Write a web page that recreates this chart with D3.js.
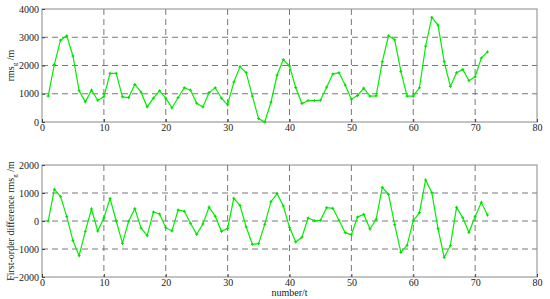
<!DOCTYPE html>
<html><head><meta charset="utf-8">
<script src="https://cdn.jsdelivr.net/npm/d3@7"></script>
<style>body{margin:0;background:#fff}svg{display:block}svg text{font-family:"Liberation Serif","Times New Roman",serif !important;}</style>
</head><body>
<script>
const rmsValues = [915,2040,2896,3050,2338,1104,712,1128,771,890,1721,1721,890,866,1329,1056,534,843,1104,843,498,866,1211,1128,665,534,1044,1211,843,605,1412,1958,1745,914,119,0,700,1662,2208,1982,1223,653,760,760,771,1234,1697,1745,1306,807,938,1199,914,926,2136,3050,2908,1792,914,914,1211,2682,3703,3430,2136,1258,1745,1863,1460,1602,2267,2481];
const diffValues = [0,1131,869,155,-702,-1238,-369,429,-357,107,798,0,-798,-12,440,-250,-524,321,250,-238,-357,393,345,-83,-476,-107,500,167,-369,-262,810,560,-214,-833,-810,-119,690,976,536,-226,-750,-583,107,12,24,476,452,24,-417,-488,143,238,-286,60,1202,952,-131,-1119,-869,12,298,1464,1012,-274,-1298,-881,488,119,-405,155,667,214];
const xTicks = [0,10,20,30,40,50,60,70,80];
const topYTicks = [0,1000,2000,3000,4000];
const botYTicks = [-2000,-1000,0,1000,2000];
const topLabel = "rms";
const botLabel = "First-order difference rms";
const xLabel = "number/t";

const W=550,H=299;
const svg=d3.select("body").append("svg").attr("width",W).attr("height",H);
const x=d3.scaleLinear().domain([0,80]).range([42,537]);

function panel(values, yDomain, yTicks, top, bottom, label){
  const y=d3.scaleLinear().domain(yDomain).range([bottom,top]);
  const g=svg.append("g");
  g.selectAll(".gx").data(xTicks.slice(1,-1)).join("line")
    .attr("x1",d=>x(d)).attr("x2",d=>x(d)).attr("y1",top).attr("y2",bottom)
    .attr("stroke","#555").attr("stroke-width",0.8).attr("stroke-dasharray","6,4");
  g.selectAll(".gy").data(yTicks.slice(1,-1)).join("line")
    .attr("y1",d=>y(d)).attr("y2",d=>y(d)).attr("x1",x(0)).attr("x2",x(80))
    .attr("stroke","#555").attr("stroke-width",0.8).attr("stroke-dasharray","6,4");
  g.append("rect").attr("x",x(0)).attr("y",top).attr("width",x(80)-x(0)).attr("height",bottom-top)
    .attr("fill","none").attr("stroke","#888").attr("stroke-width",1);
  const xa=g.append("g").attr("transform",`translate(0,${bottom})`)
    .call(d3.axisBottom(x).tickValues(xTicks).tickSize(-3).tickPadding(2).tickFormat(d3.format("d")));
  xa.select(".domain").remove();
  xa.selectAll("line").attr("stroke","#444");
  xa.selectAll("text").attr("font-size",10).attr("fill","#222");
  const ya=g.append("g").attr("transform",`translate(${x(0)},0)`)
    .call(d3.axisLeft(y).tickValues(yTicks).tickSize(-3).tickPadding(3).tickFormat(d3.format("d")));
  ya.select(".domain").remove();
  ya.selectAll("line").attr("stroke","#444");
  ya.selectAll("text").attr("font-size",10).attr("fill","#222");
  const line=d3.line().x((d,i)=>x(i+1)).y(d=>y(d));
  g.append("path").datum(values).attr("d",line).attr("fill","none").attr("stroke","#00ee00").attr("stroke-width",1.2);
  g.selectAll(".m").data(values).join("path")
    .attr("d",(d,i)=>`M${x(i+1)-1.5},${y(d)}h3M${x(i+1)},${y(d)-1.5}v3`)
    .attr("stroke","#00dd00").attr("stroke-width",1);
  const t=g.append("text").attr("transform",`translate(14,${(top+bottom)/2}) rotate(-90)`)
    .attr("text-anchor","middle").attr("font-size",10).attr("fill","#222");
  t.append("tspan").text(label);
  t.append("tspan").attr("font-size",7).attr("dy",2.5).text("g");
  t.append("tspan").attr("dy",-2.5).text(" /m");
}
panel(rmsValues,[0,4000],topYTicks,9,122,topLabel);
panel(diffValues,[-2000,2000],botYTicks,165,277,botLabel);
svg.append("text").attr("x",x(40)).attr("y",296).attr("text-anchor","middle").attr("font-size",10).attr("fill","#222").text(xLabel);
</script>
</body></html>
